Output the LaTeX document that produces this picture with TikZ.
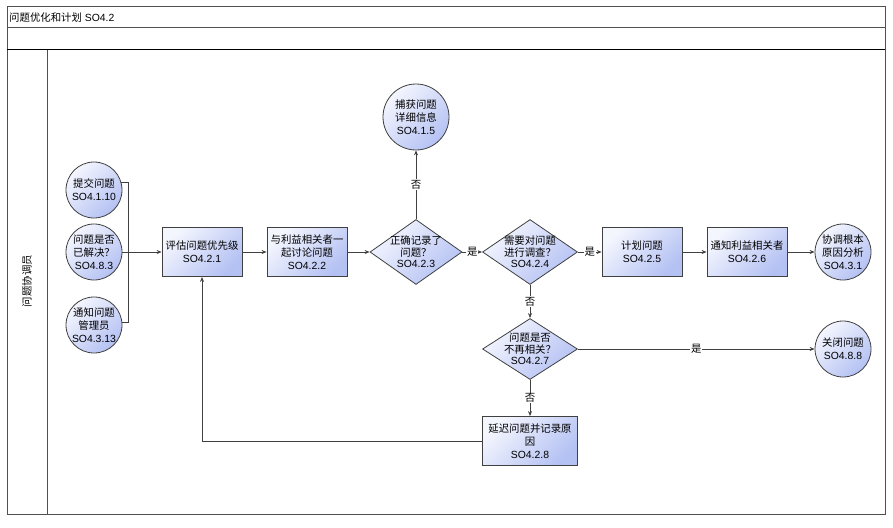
\documentclass[tikz,border=0pt]{standalone}
\usepackage{fontspec}
\setmainfont{Liberation Sans}
\newfontfamily\cjkfont{Noto Sans CJK SC}
\XeTeXinterchartokenstate=1
\newXeTeXintercharclass\CJKcls
\count255="4E00
\loop \XeTeXcharclass\count255=\CJKcls \ifnum\count255<"9FFF \advance\count255 by 1 \repeat
\XeTeXcharclass"FF1F=\CJKcls
\XeTeXinterchartoks 0 \CJKcls = {\begingroup\cjkfont}
\XeTeXinterchartoks 4095 \CJKcls = {\begingroup\cjkfont}
\XeTeXinterchartoks \CJKcls 0 = {\endgroup}
\XeTeXinterchartoks \CJKcls 4095 = {\endgroup}
\usetikzlibrary{shapes.geometric,arrows.meta,calc}
\definecolor{nodeA}{HTML}{F4F6FE}
\definecolor{nodeB}{HTML}{B4C1F3}
\definecolor{edgeC}{HTML}{404040}
\definecolor{frameC}{HTML}{505050}
\begin{document}
\begin{tikzpicture}[x=1pt,y=-1pt,
  every node/.style={font=\fontsize{10.4}{13}\selectfont,text=black},
  fillgrad/.style={top color=nodeA,bottom color=nodeB,shading angle=45},
  box/.style={draw=edgeC,line width=0.8pt,fillgrad,minimum width=80pt,minimum height=49pt,align=center,inner sep=1pt},
  circ/.style={circle,draw=edgeC,line width=0.8pt,fillgrad,minimum size=#1,inner sep=0pt},
  dia/.style={diamond,draw=edgeC,line width=0.8pt,fillgrad,minimum width=95pt,minimum height=#1,inner sep=0pt},
  lblc/.style={align=center,inner sep=0pt},
  lbld/.style={align=center,inner sep=0pt,font=\fontsize{10.4}{11.5}\selectfont},
  conn/.style={draw=edgeC,line width=0.8pt},
  arr/.style={-{Stealth[length=5pt,width=4pt]}},
  elab/.style={fill=white,inner sep=1pt}
  ]
\useasboundingbox (0,0) rectangle (893,527);
% frame
\draw[frameC,line width=1pt] (7,7) rectangle (885,514);
\draw[frameC,line width=1pt] (7,28) -- (885,28);
\draw[black,line width=1pt] (7,50) -- (885,50);
\draw[frameC,line width=1pt] (47,50) -- (47,514);
\node[anchor=west,inner sep=0pt] (title) at (9,18) {问题优化和计划 SO4.2};
\node[rotate=90,inner sep=0pt] (lane) at (27,281) {问题协调员};

% nodes
\node[circ=56pt,label={[lblc]center:提交问题\\SO4.1.10}] (c1) at (94,190) {};
\node[circ=56pt,label={[lblc]center:问题是否\\已解决？\\SO4.8.3}] (c2) at (94,252) {};
\node[circ=56pt,label={[lblc]center:通知问题\\管理员\\SO4.3.13}] (c3) at (94,325) {};
\node[box] (b1) at (202,252) {评估问题优先级\\SO4.2.1};
\node[box] (b2) at (307,252) {与利益相关者一\\起讨论问题\\SO4.2.2};
\node[dia=65pt,minimum width=92pt,label={[lbld]center:正确记录了\\问题？\\SO4.2.3}] (d1) at (416,252) {};
\node[circ=66pt,label={[lblc]center:捕获问题\\详细信息\\SO4.1.5}] (c4) at (416,117) {};
\node[dia=65pt,label={[lbld]center:需要对问题\\进行调查？\\SO4.2.4}] (d2) at (530,252) {};
\node[box] (b3) at (642,252) {计划问题\\SO4.2.5};
\node[box] (b4) at (747,252) {通知利益相关者\\SO4.2.6};
\node[circ=56pt,label={[lblc]center:协调根本\\原因分析\\SO4.3.1}] (c5) at (843,252) {};
\node[dia=61pt,label={[lbld]center:问题是否\\不再相关？\\SO4.2.7}] (d3) at (530,349) {};
\node[circ=56pt,label={[lblc]center:关闭问题\\SO4.8.8}] (c6) at (843,349) {};
\node[box,minimum width=95pt] (b5) at (530,441) {延迟问题并记录原\\因\\SO4.2.8};

% connectors
\coordinate (bus) at (128,252);
\draw[conn] (c1.15) -| (bus);
\draw[conn] (c3.6) -| (bus);
\draw[conn,arr] (c2.east) -- (b1.west);
\draw[conn,arr] (b1) -- (b2);
\draw[conn,arr] (b2) -- (d1);
\draw[conn,arr] (d1.north) -- node[elab]{否} (c4.south);
\draw[conn,arr] (d1.east) -- node[elab]{是} (d2.west);
\draw[conn,arr] (d2.east) -- node[elab]{是} (b3.west);
\draw[conn,arr] (b3) -- (b4);
\draw[conn,arr] (b4) -- (c5);
\draw[conn,arr] (d2.south) -- node[elab]{否} (d3.north);
\draw[conn,arr] (d3.east) -- node[elab]{是} (c6.west);
\draw[conn,arr] (d3.south) -- node[elab]{否} (b5.north);
\draw[conn,arr] (b5.west) -| (b1.south);
\end{tikzpicture}
\end{document}
